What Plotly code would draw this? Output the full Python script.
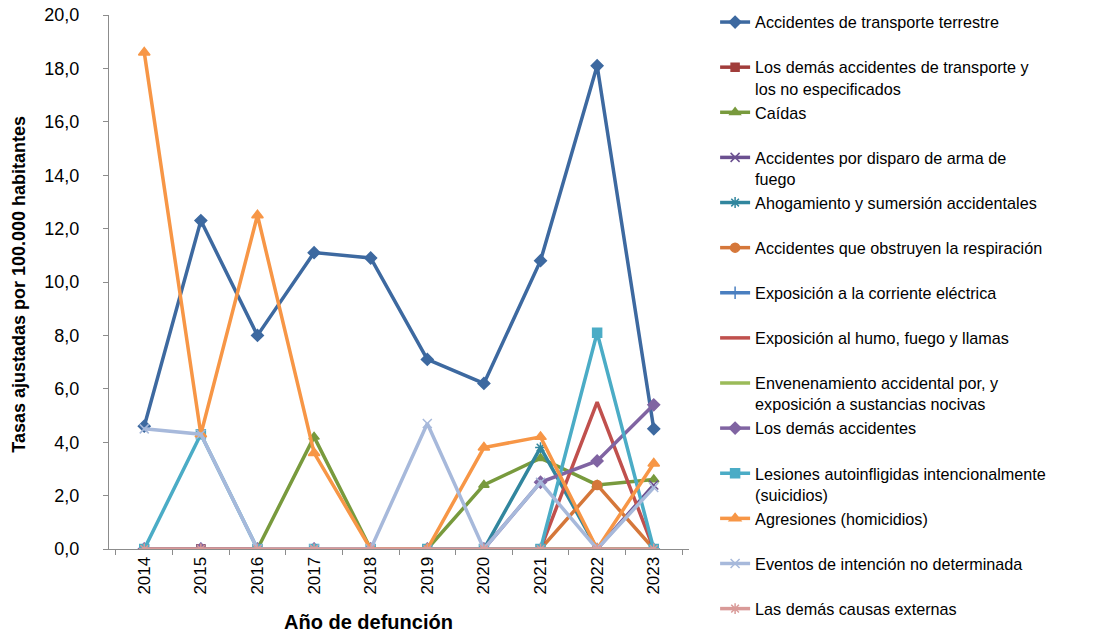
import plotly.graph_objects as go

years = ["2014", "2015", "2016", "2017", "2018", "2019", "2020", "2021", "2022", "2023"]

series_names = [
    "Accidentes de transporte terrestre",
    "Los demás accidentes de transporte y<br>los no especificados",
    "Caídas",
    "Accidentes por disparo de arma de<br>fuego",
    "Ahogamiento y sumersión accidentales",
    "Accidentes que obstruyen la respiración",
    "Exposición a la corriente eléctrica",
    "Exposición al humo, fuego y llamas",
    "Envenenamiento accidental por, y<br>exposición a sustancias nocivas",
    "Los demás accidentes",
    "Lesiones autoinfligidas intencionalmente<br>(suicidios)",
    "Agresiones (homicidios)",
    "Eventos de intención no determinada",
    "Las demás causas externas",
]

transporte_terrestre = [4.6, 12.3, 8.0, 11.1, 10.9, 7.1, 6.2, 10.8, 18.1, 4.5]
demas_transporte = [0, 0, 0, 0, 0, 0, 0, 0, 0, 0]
caidas = [0, 0, 0, 4.2, 0, 0, 2.4, 3.4, 2.4, 2.6]
disparo = [0, 0, 0, 0, 0, 0, 0, 0, 0, 2.4]
ahogamiento = [0, 0, 0, 0, 0, 0, 0, 3.8, 0, 0]
obstruyen = [0, 0, 0, 0, 0, 0, 0, 0, 2.4, 0]
corriente = [0, 0, 0, 0, 0, 0, 0, 0, 0, 0]
humo = [0, 0, 0, 0, 0, 0, 0, 0, 5.5, 0]
envenenamiento = [0, 0, 0, 0, 0, 0, 0, 0, 0, 0]
demas_accidentes = [0, 0, 0, 0, 0, 0, 0, 2.5, 3.3, 5.4]
suicidios = [0, 4.3, 0, 0, 0, 0, 0, 0, 8.1, 0]
homicidios = [18.6, 4.3, 12.5, 3.6, 0, 0, 3.8, 4.2, 0, 3.2]
no_determinada = [4.5, 4.3, 0, 0, 0, 4.7, 0, 2.5, 0, 2.3]
demas_causas = [0, 0, 0, 0, 0, 0, 0, 0, 0, 0]

all_values = [transporte_terrestre, demas_transporte, caidas, disparo, ahogamiento,
              obstruyen, corriente, humo, envenenamiento, demas_accidentes,
              suicidios, homicidios, no_determinada, demas_causas]

colors = ["#3D69A0", "#A13D3B", "#789A3D", "#6B5090", "#31869E", "#D5773A",
          "#4A7FC0", "#C0504D", "#9BBB59", "#8064A2", "#4BACC6", "#F79646",
          "#A7B9DB", "#D99A98"]
symbols = ["diamond", "square", "triangle-up", "x-thin-open", "asterisk-open", "circle",
           "cross-thin-open", None, None, "diamond", "square", "triangle-up",
           "x-thin-open", "asterisk-open"]
msizes = [9, 8, 9, 9, 9, 9, 9, 0, 0, 9, 9, 10, 9, 9]

fig = go.Figure()
for i, (name, vals) in enumerate(zip(series_names, all_values)):
    label = name if "<br>" in name else name + "<br>&nbsp;"
    sym = symbols[i]
    if sym is None:
        mode = "lines"
        marker = None
    else:
        mode = "lines+markers"
        marker = dict(symbol=sym, size=msizes[i], color=colors[i],
                      line=dict(color=colors[i], width=1.5))
    fig.add_trace(go.Scatter(
        x=years, y=vals, name=label, mode=mode,
        line=dict(color=colors[i], width=3.5),
        marker=marker, legendgroup=str(i),
    ))

fig.update_layout(
    width=1094, height=633,
    margin=dict(l=109, r=405, t=15, b=84, autoexpand=False),
    plot_bgcolor="white", paper_bgcolor="white",
    separators=",.",
    font=dict(family="Liberation Sans, Arial, sans-serif", color="black"),
    showlegend=True,
    legend=dict(
        x=1.045, xanchor="left", y=1.0187, yanchor="top",
        font=dict(size=16.2, family="Liberation Sans, Arial, sans-serif", color="black"),
        valign="top", tracegroupgap=0, traceorder="normal",
        bgcolor="rgba(0,0,0,0)", maxheight=700,
    ),
    xaxis=dict(
        type="category", showgrid=False, showline=True, linecolor="#8C8C8C", linewidth=1,
        ticks="outside", tickson="boundaries", ticklen=5, tickcolor="#8C8C8C",
        tickangle=-90, tickfont=dict(size=17), zeroline=False,
    ),
    yaxis=dict(
        range=[0, 20], dtick=2, tickformat=".1f", showgrid=False, zeroline=False,
        showline=True, linecolor="#8C8C8C", linewidth=1, ticks="outside", ticklen=5,
        tickcolor="#8C8C8C", tickfont=dict(size=18), ticklabelstandoff=20,
    ),
    annotations=[
        dict(text="<b>Tasas ajustadas por 100.000 habitantes</b>", textangle=-90,
             x=-0.155, y=0.495, xref="paper", yref="paper", showarrow=False,
             xanchor="center", yanchor="middle",
             font=dict(size=18, family="Liberation Sans Narrow, Arial Narrow, Liberation Sans")),
        dict(text="<b>Año de defunción</b>", x=0.4466, y=-0.1367, xref="paper", yref="paper",
             showarrow=False, xanchor="center", yanchor="middle", font=dict(size=20)),
    ],
)

fig.write_html("out.html", config={"displayModeBar": False},
               post_script="document.body.style.margin='0';")
